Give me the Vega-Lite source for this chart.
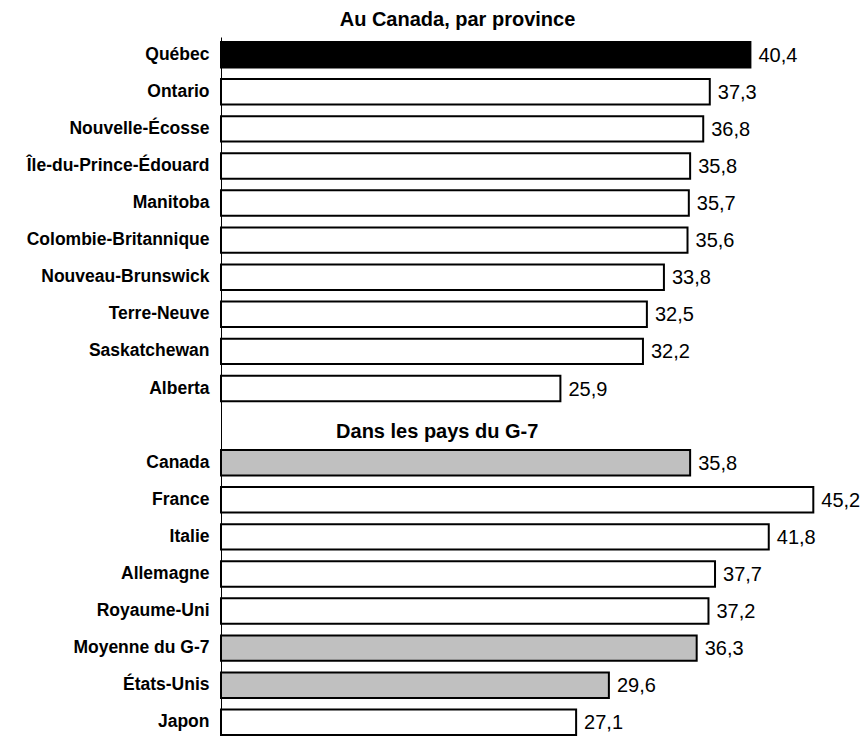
{
  "$schema": "https://vega.github.io/schema/vega-lite/v6.json",
  "autosize": {"type": "none"},
  "padding": {"left": 221, "top": 37, "right": 16, "bottom": 0},
  "width": 629,
  "height": 699,
  "config": {
    "view": {"stroke": null},
    "font": "Liberation Sans",
    "locale": {"number": {"decimal": ",", "thousands": " ", "grouping": [3], "currency": ["", " $"]}}
  },
  "title": {
    "text": "Au Canada, par province",
    "anchor": "middle",
    "dx": -78,
    "offset": 7,
    "fontSize": 20,
    "fontWeight": "bold",
    "font": "Liberation Sans",
    "color": "black"
  },
  "datasets": {
    "barres": [
      {"region": "Québec", "valeur": 40.4, "type": "Québec"},
      {"region": "Ontario", "valeur": 37.3, "type": "autre"},
      {"region": "Nouvelle-Écosse", "valeur": 36.8, "type": "autre"},
      {"region": "Île-du-Prince-Édouard", "valeur": 35.8, "type": "autre"},
      {"region": "Manitoba", "valeur": 35.7, "type": "autre"},
      {"region": "Colombie-Britannique", "valeur": 35.6, "type": "autre"},
      {"region": "Nouveau-Brunswick", "valeur": 33.8, "type": "autre"},
      {"region": "Terre-Neuve", "valeur": 32.5, "type": "autre"},
      {"region": "Saskatchewan", "valeur": 32.2, "type": "autre"},
      {"region": "Alberta", "valeur": 25.9, "type": "autre"},
      {"region": "Canada", "valeur": 35.8, "type": "référence"},
      {"region": "France", "valeur": 45.2, "type": "autre"},
      {"region": "Italie", "valeur": 41.8, "type": "autre"},
      {"region": "Allemagne", "valeur": 37.7, "type": "autre"},
      {"region": "Royaume-Uni", "valeur": 37.2, "type": "autre"},
      {"region": "Moyenne du G-7", "valeur": 36.3, "type": "référence"},
      {"region": "États-Unis", "valeur": 29.6, "type": "référence"},
      {"region": "Japon", "valeur": 27.1, "type": "autre"}
    ],
    "entetes": [
      {"region": " ", "entete": "Dans les pays du G-7"}
    ]
  },
  "encoding": {
    "y": {
      "field": "region",
      "type": "nominal",
      "scale": {
        "domain": ["Québec", "Ontario", "Nouvelle-Écosse", "Île-du-Prince-Édouard", "Manitoba", "Colombie-Britannique", "Nouveau-Brunswick", "Terre-Neuve", "Saskatchewan", "Alberta", " ", "Canada", "France", "Italie", "Allemagne", "Royaume-Uni", "Moyenne du G-7", "États-Unis", "Japon"],
        "paddingInner": 0.315,
        "paddingOuter": 0.081,
        "align": 0.833
      },
      "axis": {
        "title": null,
        "ticks": false,
        "domainColor": "black",
        "domainWidth": 1,
        "labelFont": "Liberation Sans",
        "labelFontSize": 17.5,
        "labelFontWeight": "bold",
        "labelColor": "black",
        "labelPadding": 12,
        "labelLimit": 0
      }
    }
  },
  "layer": [
    {
      "data": {"name": "barres"},
      "mark": {"type": "bar", "stroke": "black", "strokeWidth": 2},
      "encoding": {
        "x": {"field": "valeur", "type": "quantitative", "scale": {"domain": [0, 48], "nice": false}, "axis": null},
        "fill": {
          "field": "type",
          "type": "nominal",
          "scale": {"domain": ["Québec", "référence", "autre"], "range": ["black", "#c0c0c0", "white"]},
          "legend": null
        }
      }
    },
    {
      "data": {"name": "barres"},
      "mark": {"type": "text", "align": "left", "baseline": "middle", "dx": 8, "dy": 1, "fontSize": 20, "font": "Liberation Sans", "color": "black"},
      "encoding": {
        "x": {"field": "valeur", "type": "quantitative"},
        "text": {"field": "valeur", "type": "quantitative", "format": ".1f"}
      }
    },
    {
      "data": {"name": "entetes"},
      "mark": {"type": "text", "align": "center", "baseline": "middle", "dy": 6, "fontSize": 20, "fontWeight": "bold", "font": "Liberation Sans", "color": "black"},
      "encoding": {
        "x": {"datum": 16.5, "type": "quantitative"},
        "text": {"field": "entete"}
      }
    }
  ]
}
